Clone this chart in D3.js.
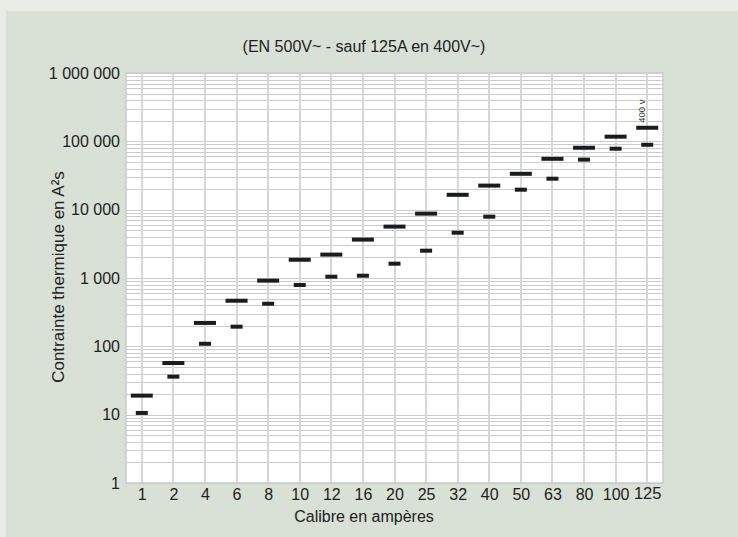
<!DOCTYPE html>
<html>
<head>
<meta charset="utf-8">
<script src="https://cdn.jsdelivr.net/npm/d3@7"></script>
<style>
  html, body { margin: 0; padding: 0; background: #e9ebe6; }
  svg { display: block; font-family: "Liberation Sans", Arial, Helvetica, sans-serif; }
</style>
</head>
<body>
<svg id="chart" width="738" height="537"></svg>
<script>
// Fuse ratings (A) and their I²t thermal constraint values (A²s)
const categories = ["1", "2", "4", "6", "8", "10", "12", "16", "20", "25", "32", "40", "50", "63", "80", "100", "125"];
const upperValues = [19, 57, 220, 465, 915, 1850, 2200, 3650, 5650, 8750, 16500, 22500, 33500, 55500, 80500, 117000, 158000];
const lowerValues = [10.6, 36, 109, 194, 420, 790, 1045, 1080, 1620, 2510, 4600, 7900, 19600, 28400, 54000, 78000, 89000];
const yTickValues = [1, 10, 100, 1000, 10000, 100000, 1000000];
const yTickLabels = ["1", "10", "100", "1 000", "10 000", "100 000", "1 000 000"];

const svg = d3.select("#chart");
const W = 738, H = 537;
const plot = { left: 126, right: 663, top: 73, bottom: 483 };
const FONT = "\"Liberation Sans\", Arial, Helvetica, sans-serif";
const TXT = "#222";

// background panel
svg.append("rect").attr("x", 0).attr("y", 0).attr("width", W).attr("height", H).attr("fill", "#e9ebe6");
svg.append("rect").attr("x", 6).attr("y", 11).attr("width", W - 6).attr("height", H - 11).attr("fill", "#d9e0d6");

const x = d3.scalePoint().domain(categories).range([plot.left, plot.right]).padding(0.5);
const y = d3.scaleLog().domain([1, 1000000]).range([plot.bottom, plot.top]);

// plot area
svg.append("rect")
  .attr("x", plot.left).attr("y", plot.top)
  .attr("width", plot.right - plot.left).attr("height", plot.bottom - plot.top)
  .attr("fill", "#ffffff");

const grid = svg.append("g").attr("stroke", "#cbcbcb").attr("stroke-width", 1).attr("shape-rendering", "crispEdges");

// horizontal log grid: 1..9 in every decade
const minor = [];
for (let e = 0; e < 6; e++) {
  for (let m = 1; m <= 9; m++) minor.push(m * Math.pow(10, e));
}
minor.push(1000000);
grid.selectAll("line.h").data(minor).join("line")
  .attr("class", "h")
  .attr("x1", plot.left).attr("x2", plot.right)
  .attr("y1", d => Math.round(y(d)) + 0.5).attr("y2", d => Math.round(y(d)) + 0.5);

// vertical grid at each rating
grid.selectAll("line.v").data(categories).join("line")
  .attr("class", "v")
  .attr("stroke-width", 2)
  .attr("stroke", "#d6d6d6")
  .attr("x1", d => Math.round(x(d))).attr("x2", d => Math.round(x(d)))
  .attr("y1", plot.top).attr("y2", plot.bottom);

// plot border
svg.append("rect")
  .attr("x", plot.left).attr("y", plot.top)
  .attr("width", plot.right - plot.left).attr("height", plot.bottom - plot.top)
  .attr("fill", "none").attr("stroke", "#cbcbcb").attr("stroke-width", 1.5);

// axes
const yAxis = d3.axisLeft(y)
  .tickValues(yTickValues)
  .tickFormat((d, i) => yTickLabels[i])
  .tickSize(0).tickPadding(6);
const gy = svg.append("g").attr("transform", `translate(${plot.left},0)`).call(yAxis);
gy.select(".domain").remove();
gy.selectAll("text").attr("font-size", 16).attr("fill", TXT).attr("font-family", FONT);

const xAxis = d3.axisBottom(x).tickSize(0).tickPadding(6);
const gx = svg.append("g").attr("transform", `translate(0,${plot.bottom})`).call(xAxis);
gx.select(".domain").remove();
gx.selectAll("text").attr("font-size", 16).attr("fill", TXT).attr("font-family", FONT);
gx.selectAll(".tick").filter(d => d === "125").select("text")
  .attr("font-size", 16.5).attr("dy", "0.6em");

// I²t bars
const barH = 4;
const bars = svg.append("g").attr("fill", "#1b1c1e");
bars.selectAll("rect.up").data(categories).join("rect")
  .attr("class", "up")
  .attr("x", d => x(d) - 11).attr("width", 22)
  .attr("y", (d, i) => y(upperValues[i]) - barH / 2).attr("height", barH);
bars.selectAll("rect.low").data(categories).join("rect")
  .attr("class", "low")
  .attr("x", d => x(d) - 6).attr("width", 12)
  .attr("y", (d, i) => y(lowerValues[i]) - barH / 2).attr("height", barH);

// 400 V note above the 125 A rating
const last = categories.length - 1;
svg.append("text")
  .attr("transform", `translate(${x(categories[last]) - 2},${y(upperValues[last]) - 5}) rotate(-90)`)
  .attr("font-size", 9.5).attr("fill", "#333").attr("font-family", FONT)
  .text("400 v");

// titles
svg.append("text")
  .attr("x", 364).attr("y", 52)
  .attr("text-anchor", "middle").attr("font-size", 16).attr("fill", TXT)
  .text("(EN 500V~ - sauf 125A en 400V~)");

svg.append("text")
  .attr("x", 364).attr("y", 522)
  .attr("text-anchor", "middle").attr("font-size", 16).attr("fill", TXT)
  .text("Calibre en ampères");

svg.append("text")
  .attr("transform", "translate(64,277) rotate(-90)")
  .attr("text-anchor", "middle").attr("font-size", 17).attr("fill", TXT)
  .text("Contrainte thermique en A²s");
</script>
</body>
</html>
